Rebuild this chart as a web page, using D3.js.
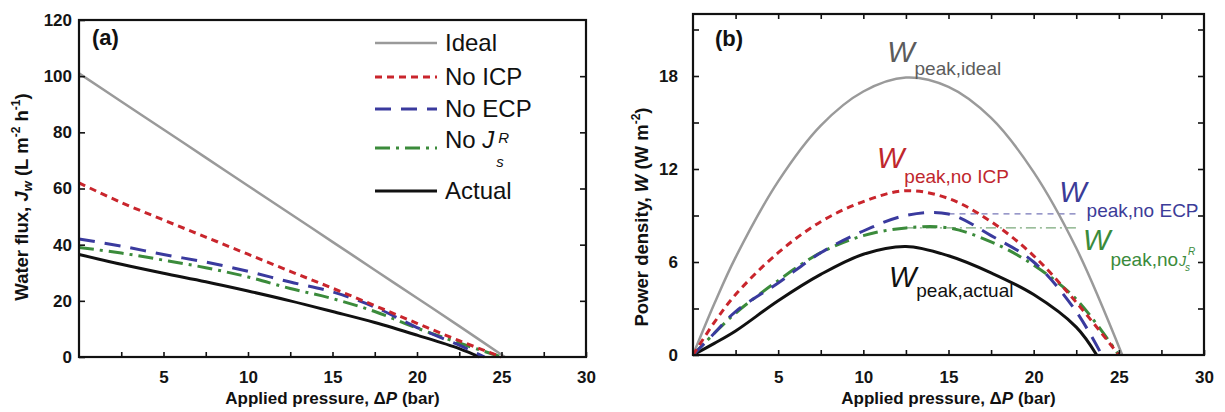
<!DOCTYPE html>
<html>
<head>
<meta charset="utf-8">
<script src="https://cdn.jsdelivr.net/npm/d3@7"></script>
<style>
  html, body { margin: 0; padding: 0; background: #fff; }
  svg { display: block; font-family: "Liberation Sans", Arial, Helvetica, sans-serif; }
</style>
</head>
<body>
<svg id="chart" width="1225" height="412"></svg>
<script>
// ---- data -------------------------------------------------------------
const seriesNames = ["Ideal", "No ICP", "No ECP", "No Js", "Actual"];

// (a) water flux Jw (L m-2 h-1) against applied pressure (bar)
const fluxPressure = [0, 2.5, 5, 7.5, 10, 12.5, 15, 17.5, 20, 22.5];
const fluxIdeal  = [101, 91, 81, 71, 61, 51, 41, 31, 21, 11];
const fluxNoICP  = [62, 55, 48.8, 42.7, 36.6, 30.5, 24.5, 18.3, 12, 5.8];
const fluxNoECP  = [42, 39.5, 36.5, 33.8, 30.5, 26.7, 23.2, 17.8, 10.5, 4.2];
const fluxNoJs   = [39, 37, 34.5, 31.8, 28.5, 24.4, 20.8, 16.2, 10.3, 5];
const fluxActual = [36.5, 33, 29.8, 26.8, 23.5, 20, 16.2, 12.3, 7.8, 3];
// pressure at which each series reaches zero (flux and power)
const zeroPressure = [25.2, 25.0, 24.0, 25.0, 23.7];

// (b) power density W (W m-2) against applied pressure (bar)
const powerPressure = [0, 1.25, 2.5, 5, 7.5, 10, 12.5, 15, 17.5, 20, 22.5];
const powerIdeal  = [0, 3.3, 6.3, 11.2, 14.8, 17.0, 17.9, 17.3, 15.3, 11.8, 6.9];
const powerNoICP  = [0, 2.1, 3.9, 6.6, 8.6, 9.9, 10.6, 10.1, 8.6, 6.4, 3.4];
const powerNoECP  = [0, 1.4, 2.8, 4.65, 6.6, 8.0, 9.0, 9.1, 7.7, 6.0, 2.8];
const powerNoJs   = [0, 1.4, 2.7, 4.8, 6.6, 7.7, 8.2, 8.2, 7.3, 5.8, 3.6];
const powerActual = [0, 0.75, 1.55, 3.5, 5.2, 6.5, 7.0, 6.4, 5.3, 3.9, 1.8];

// axis ticks
const pressureTicks = d3.range(2.5, 30.01, 2.5);
const fluxTicks = [0, 20, 40, 60, 80, 100, 120];
const powerTicks = d3.range(0, 21.01, 3);

// ---- styles -----------------------------------------------------------
const lineColors = ["#9a9a9a", "#c9252c", "#3a3a9e", "#3b8b3b", "#111111"];
const lineDashes = [null, "7,5", "16,10", "15,6,3,6", null];
const lineWidths = [2.5, 3, 3, 3, 3];
const drawOrder = [0, 4, 3, 2, 1];
const FONT_TICK = 17;

const svg = d3.select("#chart");

function series(ps, vals, z) {
  return ps.map((p, i) => [p, vals[i]]).concat([[z, 0]]);
}

// rich text: parts = [{t, italic, size, shift}] ; shift in px (negative = up)
function rich(text, parts) {
  let offset = 0;
  parts.forEach(p => {
    const ts = text.append("tspan").text(p.t);
    const target = p.shift || 0;
    ts.attr("dy", target - offset);
    offset = target;
    if (p.italic) ts.attr("font-style", "italic");
    if (p.size) ts.attr("font-size", p.size);
    if (p.weight) ts.attr("font-weight", p.weight);
  });
  return text;
}

function styleTicks(g) {
  g.select(".domain").remove();
  g.selectAll(".tick line").attr("stroke", "#111").attr("stroke-width", 1.6);
  g.selectAll(".tick text")
    .attr("font-size", FONT_TICK).attr("font-weight", "bold")
    .attr("fill", "#141414")
    .attr("font-family", "Liberation Sans, Arial, sans-serif");
}

const fmt5 = v => (Math.abs(v % 5) < 1e-9 ? d3.format("d")(v) : "");
const fmt6 = v => (Math.abs(v % 6) < 1e-9 ? d3.format("d")(v) : "");
const smooth = d3.curveCatmullRom.alpha(0.5);

// ---- panel (a) --------------------------------------------------------
const xA = d3.scaleLinear().domain([0, 30]).range([79, 586]);
const yA = d3.scaleLinear().domain([0, 120]).range([357, 20]);
const gA = svg.append("g");

const fluxSeries = [fluxIdeal, fluxNoICP, fluxNoECP, fluxNoJs, fluxActual];
const lineA = d3.line().x(d => xA(d[0])).y(d => yA(d[1])).curve(smooth);
drawOrder.forEach(i => {
  gA.append("path")
    .datum(series(fluxPressure, fluxSeries[i], zeroPressure[i]))
    .attr("d", lineA)
    .attr("fill", "none")
    .attr("stroke", lineColors[i])
    .attr("stroke-width", lineWidths[i])
    .attr("stroke-dasharray", lineDashes[i]);
});

gA.append("g").attr("transform", `translate(0,${yA(0)})`)
  .call(d3.axisBottom(xA).tickValues(pressureTicks).tickFormat(fmt5).tickSize(-5).tickPadding(14))
  .call(styleTicks);
gA.append("g").attr("transform", `translate(${xA(0)},0)`)
  .call(d3.axisLeft(yA).tickValues(fluxTicks).tickFormat(d3.format("d")).tickSize(-6).tickPadding(7))
  .call(styleTicks);
gA.append("g").attr("transform", `translate(${xA(30)},0)`)
  .call(d3.axisRight(yA).tickValues(fluxTicks.slice(1, -1)).tickFormat("").tickSize(-6))
  .call(styleTicks);
gA.append("rect")
  .attr("x", xA(0)).attr("y", yA(120))
  .attr("width", xA(30) - xA(0)).attr("height", yA(0) - yA(120))
  .attr("fill", "none").attr("stroke", "#111").attr("stroke-width", 2.2);

gA.append("text").attr("x", 92).attr("y", 45)
  .attr("font-size", 22).attr("font-weight", "bold").attr("fill", "#111").text("(a)");

// legend
const legendRows = [43, 77, 109, 148, 191];
const legend = gA.append("g");
seriesNames.forEach((name, i) => {
  legend.append("line")
    .attr("x1", 375).attr("x2", 437)
    .attr("y1", legendRows[i]).attr("y2", legendRows[i])
    .attr("stroke", lineColors[i]).attr("stroke-width", lineWidths[i])
    .attr("stroke-dasharray", lineDashes[i]);
  const t = legend.append("text").attr("x", 445).attr("y", legendRows[i])
    .attr("dy", "0.35em").attr("font-size", 24).attr("fill", "#111");
  if (name === "No Js") {
    rich(t, [{ t: "No " }, { t: "J", italic: true }]);
    const bb = t.node().getBBox();
    legend.append("text").attr("x", bb.x + bb.width + 1).attr("y", legendRows[i] + 19)
      .attr("font-size", 15).attr("font-style", "italic").attr("fill", "#111").text("s");
    legend.append("text").attr("x", bb.x + bb.width + 3).attr("y", legendRows[i] - 5)
      .attr("font-size", 15).attr("font-style", "italic").attr("fill", "#111").text("R");
  } else {
    t.text(name);
  }
});

// axis titles (a)
rich(gA.append("text")
  .attr("x", (xA(0) + xA(30)) / 2).attr("y", 404)
  .attr("text-anchor", "middle").attr("font-size", 17).attr("font-weight", "bold").attr("fill", "#111"),
  [{ t: "Applied pressure, \u0394" }, { t: "P", italic: true }, { t: " (bar)" }]);

rich(gA.append("text")
  .attr("transform", "translate(28,197) rotate(-90)")
  .attr("text-anchor", "middle").attr("font-size", 18.5).attr("font-weight", "bold").attr("fill", "#111"),
  [{ t: "Water flux, " }, { t: "J", italic: true }, { t: "w", italic: true, size: 13, shift: 4 },
   { t: " (L m" }, { t: "-2", size: 12, shift: -8 }, { t: " h" }, { t: "-1", size: 12, shift: -8 }, { t: ")" }]);

// ---- panel (b) --------------------------------------------------------
const xB = d3.scaleLinear().domain([0, 30]).range([693, 1204]);
const yB = d3.scaleLinear().domain([0, 22]).range([355, 14]);
const gB = svg.append("g");

const powerSeries = [powerIdeal, powerNoICP, powerNoECP, powerNoJs, powerActual];
const lineB = d3.line().x(d => xB(d[0])).y(d => yB(d[1])).curve(smooth);

// thin guide lines at the peak of No ECP and No Js
const guideEnd = 22.6;
[[2, "6,5"], [3, "10,4,2,4"]].forEach(([i, dash]) => {
  const vals = powerSeries[i];
  const k = d3.maxIndex(vals);
  gB.append("line")
    .attr("x1", xB(powerPressure[k])).attr("x2", xB(guideEnd))
    .attr("y1", yB(vals[k])).attr("y2", yB(vals[k]))
    .attr("stroke", i === 2 ? "#7777b8" : "#7aa87a")
    .attr("stroke-width", 1.3).attr("stroke-dasharray", dash);
});

drawOrder.forEach(i => {
  gB.append("path")
    .datum(series(powerPressure, powerSeries[i], zeroPressure[i]))
    .attr("d", lineB)
    .attr("fill", "none")
    .attr("stroke", lineColors[i])
    .attr("stroke-width", lineWidths[i])
    .attr("stroke-dasharray", lineDashes[i]);
});

gB.append("g").attr("transform", `translate(0,${yB(0)})`)
  .call(d3.axisBottom(xB).tickValues(pressureTicks).tickFormat(fmt5).tickSize(-5).tickPadding(16))
  .call(styleTicks);
gB.append("g").attr("transform", `translate(0,${yB(22)})`)
  .call(d3.axisTop(xB).tickValues(pressureTicks.slice(0, -1)).tickFormat("").tickSize(-5))
  .call(styleTicks);
gB.append("g").attr("transform", `translate(${xB(0)},0)`)
  .call(d3.axisLeft(yB).tickValues(powerTicks).tickFormat(fmt6).tickSize(-6).tickPadding(15))
  .call(styleTicks);
gB.append("g").attr("transform", `translate(${xB(30)},0)`)
  .call(d3.axisRight(yB).tickValues(powerTicks.slice(1)).tickFormat("").tickSize(-6))
  .call(styleTicks);
gB.append("rect")
  .attr("x", xB(0)).attr("y", yB(22))
  .attr("width", xB(30) - xB(0)).attr("height", yB(0) - yB(22))
  .attr("fill", "none").attr("stroke", "#111").attr("stroke-width", 2.2);

gB.append("text").attr("x", 715).attr("y", 46)
  .attr("font-size", 22).attr("font-weight", "bold").attr("fill", "#111").text("(b)");

// peak labels, anchored in data coordinates
const peakLabels = [
  { sub: "peak,ideal",  color: "#5c5c5c", p: 11.4, w: 18.9, dy: 13 },
  { sub: "peak,no ICP", color: "#c0272d", p: 10.8, w: 12.06, dy: 15 },
  { sub: "peak,no ECP", color: "#3c3c98", p: 21.5, w: 9.9, dy: 15 },
  { sub: "peak,no",     color: "#3b8b3b", p: 22.9, w: 6.77, dy: 16, js: true },
  { sub: "peak,actual", color: "#111111", p: 11.5, w: 4.4, dy: 10 }
];
peakLabels.forEach(l => {
  const t = gB.append("text").attr("x", xB(l.p)).attr("y", yB(l.w)).attr("fill", l.color);
  rich(t, [{ t: "W", italic: true, size: 29 }, { t: l.sub, size: 19, shift: l.dy }]);
  if (l.js) {
    const bb = t.node().getBBox();
    const x0 = bb.x + bb.width + 1, y0 = yB(l.w) + l.dy;
    gB.append("text").attr("x", x0).attr("y", y0).attr("fill", l.color)
      .attr("font-size", 14).attr("font-style", "italic").text("J");
    gB.append("text").attr("x", x0 + 6).attr("y", y0 + 5).attr("fill", l.color)
      .attr("font-size", 10).attr("font-style", "italic").text("s");
    gB.append("text").attr("x", x0 + 9).attr("y", y0 - 11).attr("fill", l.color)
      .attr("font-size", 10).attr("font-style", "italic").text("R");
  }
});

// axis titles (b)
rich(gB.append("text")
  .attr("x", (xB(0) + xB(30)) / 2).attr("y", 404)
  .attr("text-anchor", "middle").attr("font-size", 17).attr("font-weight", "bold").attr("fill", "#111"),
  [{ t: "Applied pressure, \u0394" }, { t: "P", italic: true }, { t: " (bar)" }]);

rich(gB.append("text")
  .attr("transform", "translate(648,217) rotate(-90)")
  .attr("text-anchor", "middle").attr("font-size", 18.5).attr("font-weight", "bold").attr("fill", "#111"),
  [{ t: "Power density, " }, { t: "W", italic: true }, { t: " (W m" }, { t: "-2", size: 12, shift: -8 }, { t: ")" }]);
</script>
</body>
</html>
